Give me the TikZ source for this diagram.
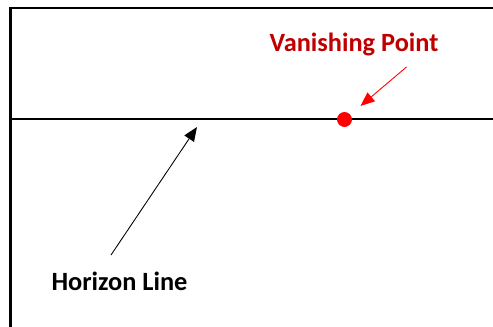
\documentclass[tikz,border=0pt]{standalone}
\usepackage{fontspec}
\setmainfont{Carlito}
\usetikzlibrary{arrows.meta}
\definecolor{darkred}{HTML}{C00000}

\begin{document}
\begin{tikzpicture}[
  x=0.02cm,
  y=-0.02cm,
  font=\bfseries\fontsize{15}{18}\selectfont,
  frame/.style={line width=1.2pt},
  pointer/.style={-{Triangle[length=8pt,width=6.5pt]}, line width=0.5pt},
  vpdot/.style={circle, fill=red, inner sep=0pt, minimum size=8.5pt}
]

% White background
\fill[white] (0,0) rectangle (493,326);
\useasboundingbox (0,0) rectangle (493,326);

% Frame and horizon
\draw[frame] (10.5,330) -- (10.5,8) -- (497,8);
\draw[frame] (10.5,119) -- (497,119);

% Vanishing point
\node[vpdot] (vp) at (344.5,119.5) {};

% Labels
\node[text=darkred] (vplabel) at (354,44) {Vanishing Point};
\node (hlabel) at (119.5,281) {Horizon Line};

% Arrows
\coordinate (vpfrom) at (406.5,67);
\coordinate (hlfrom) at (111,255);
\coordinate (hlto) at (197,127);
\draw[pointer, red, shorten >=0.42cm] (vpfrom) -- (vp.center);
\draw[pointer, black] (hlfrom) -- (hlto);

\end{tikzpicture}
\end{document}
